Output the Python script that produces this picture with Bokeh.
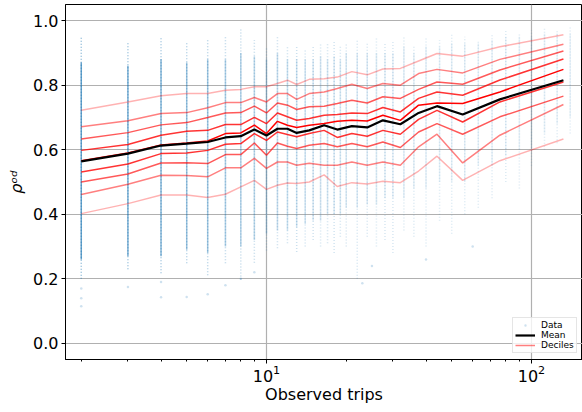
from bokeh.plotting import figure
from bokeh.models import (FixedTicker, LogTickFormatter, PrintfTickFormatter, ColumnDataSource,
                          Legend, LegendItem, Range1d)
from bokeh.embed import file_html
from bokeh.resources import INLINE

# ---- binned statistics (x = observed trips bin, y = rho^od) ----
bin_x = [2, 3, 4, 5, 6, 7, 8, 9, 10, 11, 12, 13, 14.5, 16.5, 18.5, 21, 24, 27.5, 32, 37.5, 44, 55, 76, 132]
mean = [0.564, 0.588, 0.613, 0.619, 0.624, 0.638, 0.642, 0.6625, 0.644, 0.665, 0.665, 0.652, 0.660, 0.676,
        0.6625, 0.673, 0.669, 0.691, 0.679, 0.714, 0.735, 0.709, 0.756, 0.8155]
d1 = [0.402, 0.433, 0.460, 0.460, 0.452, 0.462, 0.485, 0.505, 0.477, 0.490, 0.497, 0.495, 0.500, 0.522,
      0.486, 0.498, 0.494, 0.502, 0.498, 0.534, 0.580, 0.505, 0.566, 0.633]
d2 = [0.461, 0.493, 0.521, 0.520, 0.516, 0.544, 0.544, 0.573, 0.542, 0.562, 0.562, 0.552, 0.558, 0.552,
      0.552, 0.562, 0.552, 0.562, 0.552, 0.609, 0.648, 0.559, 0.645, 0.740]
d3 = [0.500, 0.525, 0.559, 0.560, 0.557, 0.585, 0.585, 0.621, 0.583, 0.621, 0.611, 0.604, 0.614, 0.619,
      0.609, 0.619, 0.609, 0.624, 0.607, 0.655, 0.681, 0.648, 0.702, 0.766]
d4 = [0.531, 0.556, 0.588, 0.590, 0.598, 0.617, 0.619, 0.650, 0.629, 0.655, 0.647, 0.640, 0.650, 0.660,
      0.638, 0.650, 0.642, 0.660, 0.648, 0.694, 0.722, 0.686, 0.748, 0.810]
d5 = [0.566, 0.590, 0.615, 0.621, 0.627, 0.650, 0.652, 0.676, 0.650, 0.688, 0.676, 0.669, 0.676, 0.681,
      0.688, 0.691, 0.689, 0.707, 0.691, 0.738, 0.745, 0.743, 0.779, 0.849]
d6 = [0.598, 0.616, 0.645, 0.657, 0.660, 0.678, 0.678, 0.700, 0.681, 0.714, 0.702, 0.6915, 0.697, 0.707,
      0.709, 0.714, 0.712, 0.731, 0.717, 0.759, 0.779, 0.769, 0.816, 0.881]
d7 = [0.633, 0.653, 0.677, 0.684, 0.700, 0.714, 0.715, 0.735, 0.714, 0.745, 0.738, 0.7245, 0.733, 0.735,
      0.743, 0.753, 0.745, 0.764, 0.759, 0.787, 0.810, 0.803, 0.847, 0.906]
d8 = [0.671, 0.690, 0.712, 0.715, 0.730, 0.746, 0.746, 0.762, 0.748, 0.774, 0.774, 0.756, 0.774, 0.779,
      0.790, 0.803, 0.790, 0.805, 0.800, 0.836, 0.849, 0.838, 0.880, 0.927]
d9 = [0.7225, 0.748, 0.767, 0.774, 0.774, 0.7845, 0.787, 0.795, 0.795, 0.805, 0.8155, 0.802, 0.818, 0.820,
      0.825, 0.842, 0.832, 0.850, 0.852, 0.875, 0.898, 0.890, 0.919, 0.956]
deciles = [d1, d2, d3, d4, d5, d6, d7, d8, d9]

# ---- raw data columns (observed trips, extent of points, dense core, relative density) ----
col_x = [2, 3, 4, 5, 6, 7, 8, 9, 10, 11, 12, 13, 14, 15, 16, 17, 18, 19, 20, 22, 24, 26, 28, 30,
         33, 36, 40, 45, 50, 56, 63, 71, 80, 90, 100, 112, 125, 140]
col_lo = [0.20, 0.23, 0.217, 0.248, 0.211, 0.248, 0.198, 0.25, 0.288, 0.295, 0.31, 0.283, 0.30, 0.32,
          0.30, 0.31, 0.28, 0.33, 0.30, 0.20, 0.33, 0.30, 0.32, 0.28, 0.35, 0.33, 0.30, 0.38, 0.34, 0.40,
          0.42, 0.45, 0.50, 0.48, 0.55, 0.60, 0.62, 0.65]
col_hi = [0.95, 0.93, 0.95, 0.934, 0.945, 0.952, 0.973, 0.94, 0.919, 0.955, 0.924, 0.919, 0.91, 0.92,
          0.93, 0.93, 0.94, 0.92, 0.93, 0.94, 0.93, 0.95, 0.93, 0.94, 0.95, 0.92, 0.95, 0.94, 0.96, 0.95,
          0.94, 0.96, 0.97, 0.96, 0.97, 0.98, 0.97, 0.98]
col_core_lo = [0.26, 0.27, 0.27, 0.29, 0.28, 0.30, 0.30, 0.32, 0.34, 0.35, 0.35, 0.36, 0.37, 0.38,
               0.38, 0.40, 0.40, 0.40, 0.42, 0.42, 0.43, 0.43, 0.45, 0.45, 0.45, 0.48, 0.48, 0.50, 0.50,
               0.50, 0.55, 0.55, 0.58, 0.60, 0.60, 0.65, 0.68, 0.70]
col_core_hi = [0.87, 0.86, 0.88, 0.87, 0.88, 0.88, 0.90, 0.89, 0.88, 0.90, 0.88, 0.88, 0.88, 0.88,
               0.89, 0.88, 0.89, 0.88, 0.90, 0.90, 0.90, 0.90, 0.90, 0.90, 0.92, 0.90, 0.92, 0.92, 0.93,
               0.93, 0.93, 0.94, 0.95, 0.95, 0.95, 0.96, 0.96, 0.96]
col_density = [1.0, 0.85, 0.75, 0.6, 0.55, 0.45, 0.4, 0.35, 0.3, 0.28, 0.25, 0.23, 0.2, 0.18, 0.17, 0.16,
               0.15, 0.14, 0.13, 0.12, 0.11, 0.1, 0.09, 0.08, 0.07, 0.06, 0.05, 0.045, 0.04, 0.035, 0.03,
               0.03, 0.025, 0.025, 0.02, 0.02, 0.02, 0.02]
# isolated low points seen below the columns
out_x = [2, 2, 2, 3, 4, 4, 5, 6, 7, 8, 9, 23, 25, 40, 60]
out_y = [0.115, 0.14, 0.17, 0.175, 0.143, 0.19, 0.144, 0.152, 0.18, 0.20, 0.22, 0.186, 0.24, 0.26, 0.30]

y_ticks = [0.0, 0.2, 0.4, 0.6, 0.8, 1.0]
x_major = [10, 100]
x_minor = [2, 3, 4, 5, 6, 7, 8, 9, 20, 30, 40, 50, 60, 70, 80, 90]

FONT = "DejaVu Sans"
BLUE = "#1f77b4"

p = figure(width=582, height=412, x_axis_type="log",
           x_range=Range1d(1.744, 155.8), y_range=Range1d(-0.05, 1.05),
           output_backend="svg", toolbar_location=None,
           min_border_left=65, min_border_right=0, min_border_top=4, min_border_bottom=53)
p.background_fill_color = "white"
p.border_fill_color = "white"
p.outline_line_color = "black"
p.outline_line_width = 1

# axes
p.xaxis.ticker = FixedTicker(ticks=x_major, minor_ticks=x_minor)
p.xaxis.formatter = LogTickFormatter()
p.xgrid.ticker = FixedTicker(ticks=x_major)
p.yaxis.ticker = FixedTicker(ticks=y_ticks)
p.yaxis.formatter = PrintfTickFormatter(format="%.1f")
p.ygrid.ticker = FixedTicker(ticks=y_ticks)

for ax in (p.xaxis[0], p.yaxis[0]):
    ax.axis_line_color = "black"
    ax.major_tick_line_color = "black"
    ax.major_tick_in = 0
    ax.major_tick_out = 4
    ax.minor_tick_in = 0
    ax.minor_tick_out = 2
    ax.minor_tick_line_color = "black"
    ax.major_label_text_font = FONT
    ax.major_label_text_font_size = "16px"
    ax.major_label_text_color = "black"
    ax.axis_label_text_font = FONT
    ax.axis_label_text_font_size = "16px"
    ax.axis_label_text_color = "black"
p.yaxis.minor_tick_line_color = None
p.xaxis.major_label_standoff = 1
p.yaxis.major_label_standoff = 3
p.xaxis.axis_label = "Observed trips"
p.xaxis.axis_label_text_font_style = "normal"
p.xaxis.axis_label_standoff = 0
p.yaxis.axis_label = "\u03c1\u1d52\u1d48"
p.yaxis.axis_label_text_font_style = "italic"
p.yaxis.axis_label_standoff = 4

for g in (p.xgrid[0], p.ygrid[0]):
    g.grid_line_color = "#b0b0b0"
    g.grid_line_width = 1.2
    g.grid_line_alpha = 1.0

# raw data columns
col_src = ColumnDataSource(dict(
    x=col_x, lo=col_lo, hi=col_hi, clo=col_core_lo, chi=col_core_hi,
    a_sparse=[0.15 + 0.35 * d for d in col_density],
    a_core=[0.08 + 0.6 * d for d in col_density],
))
p.segment(x0="x", y0="lo", x1="x", y1="hi", source=col_src, line_color=BLUE,
          line_alpha="a_sparse", line_width=1.5, line_dash="1 2")
p.segment(x0="x", y0="clo", x1="x", y1="chi", source=col_src, line_color=BLUE,
          line_alpha="a_core", line_width=1.5)
data_r = p.scatter(x=out_x, y=out_y, size=2.5, marker="circle", fill_color=BLUE, line_color=None,
                   fill_alpha=0.22)

# deciles
dec_alpha = [0.3, 0.5, 0.65, 0.8, 1.0, 0.8, 0.65, 0.5, 0.3]
dec_r = []
for d, a in zip(deciles, dec_alpha):
    r = p.line(bin_x, d, line_color="red", line_alpha=a, line_width=1.5)
    dec_r.append(r)

mean_r = p.line(bin_x, mean, line_color="black", line_width=2.2)

legend = Legend(items=[
    LegendItem(label="Data", renderers=[data_r]),
    LegendItem(label="Mean", renderers=[mean_r]),
    LegendItem(label="Deciles", renderers=[dec_r[1]]),
], location=(447, 6))
legend.label_text_font = FONT
legend.label_text_font_size = "9px"
legend.label_text_color = "black"
legend.label_height = 6
legend.glyph_height = 6
legend.glyph_width = 20
legend.label_standoff = 6
legend.spacing = 0
legend.padding = 2
legend.margin = 0
legend.border_line_color = "#cccccc"
legend.border_line_width = 1
legend.background_fill_alpha = 0.8
p.add_layout(legend)

open("out.html", "w").write(file_html(p, INLINE))
